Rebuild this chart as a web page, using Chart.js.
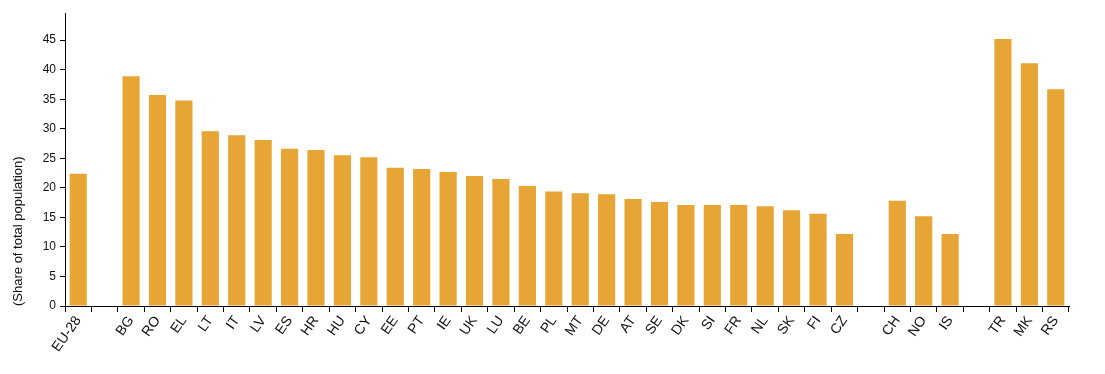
<canvas id="myChart"></canvas>

<style>
  body { margin: 0; background: #fff; }
  #wrap { width: 1105px; height: 374px; }
</style>

<script src="https://cdn.jsdelivr.net/npm/chart.js"></script>
<script>
  // countries, with empty slots where the reference leaves a gap
  const categories = ['EU-28', '', 'BG', 'RO', 'EL', 'LT', 'IT', 'LV', 'ES', 'HR', 'HU', 'CY', 'EE', 'PT',
    'IE', 'UK', 'LU', 'BE', 'PL', 'MT', 'DE', 'AT', 'SE', 'DK', 'SI', 'FR', 'NL', 'SK', 'FI', 'CZ',
    '', 'CH', 'NO', 'IS', '', 'TR', 'MK', 'RS'];
  const shares = [22.4, null, 38.9, 35.7, 34.8, 29.6, 28.9, 28.1, 26.6, 26.4, 25.5, 25.2, 23.4, 23.2,
    22.7, 22.0, 21.5, 20.3, 19.4, 19.1, 18.9, 18.1, 17.6, 17.1, 17.1, 17.1, 16.9, 16.2, 15.6, 12.2,
    null, 17.8, 15.2, 12.2, null, 45.2, 41.1, 36.7];
  const yTicks = [0, 5, 10, 15, 20, 25, 30, 35, 40, 45];

  const canvas = document.getElementById('myChart');
  const wrap = document.createElement('div');
  wrap.id = 'wrap';
  canvas.parentNode.insertBefore(wrap, canvas);
  wrap.appendChild(canvas);

  Chart.defaults.font.family = '"Liberation Sans", Arial, sans-serif';
  Chart.defaults.color = '#111';

  new Chart(canvas, {
    type: 'bar',
    data: {
      labels: categories,
      datasets: [{
        data: shares,
        backgroundColor: '#E6A534',
        barPercentage: 0.65,
        categoryPercentage: 1.0
      }]
    },
    options: {
      responsive: true,
      maintainAspectRatio: false,
      animation: false,
      layout: { padding: { top: 13, right: 36, left: 0, bottom: 0 } },
      plugins: { legend: { display: false }, tooltip: { enabled: false } },
      scales: {
        x: {
          offset: true,
          grid: { offset: true, drawOnChartArea: false, color: '#000', tickLength: 6, lineWidth: 1 },
          border: { color: '#000', width: 1 },
          ticks: { autoSkip: false, minRotation: 55, maxRotation: 55, font: { size: 14 }, padding: 1 },
          afterFit: (s) => { s.height = 68; }
        },
        y: {
          min: 0,
          max: 49.6,
          grid: { drawOnChartArea: false, color: '#000', tickLength: 5 },
          border: { color: '#000', width: 1 },
          ticks: { stepSize: 5, includeBounds: false, font: { size: 12 }, padding: 4 },
          afterBuildTicks: (s) => { s.ticks = yTicks.map(v => ({ value: v })); },
          title: {
            display: true,
            text: '(Share of total population)',
            align: 'start',
            font: { size: 13 },
            padding: { top: 11, bottom: 4 }
          },
          afterFit: (s) => { s.width = 65; }
        }
      }
    }
  });
</script>
